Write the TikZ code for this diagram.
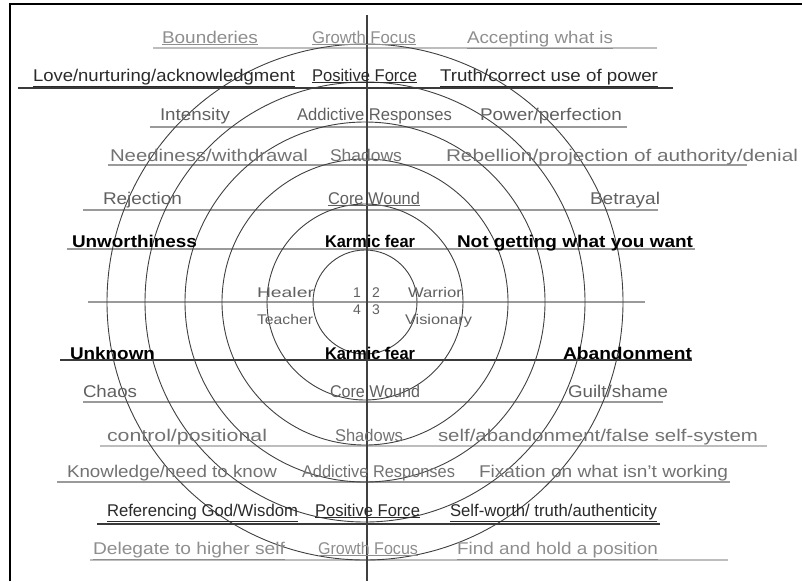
\documentclass[tikz,border=0pt]{standalone}
\usepackage{fontspec}
\setmainfont{Liberation Sans}
\usepackage{graphicx}
\newcommand{\fitw}[2]{\resizebox{#1pt}{\height}{#2}}
\definecolor{tlight}{HTML}{8E8E8E}
\definecolor{tdark}{HTML}{2A2A2A}
\definecolor{tmid}{HTML}{606060}
\definecolor{tmid2}{HTML}{727272}
\definecolor{llight}{HTML}{BDBDBD}
\definecolor{ldark}{HTML}{3A3A3A}
\definecolor{lmid}{HTML}{9A9A9A}
\definecolor{ring}{HTML}{404040}
\tikzset{
  lbl/.style={anchor=base west, inner sep=0pt, outer sep=0pt, font=\fontsize{17}{19}\selectfont},
  lblb/.style={lbl, font=\fontsize{17}{19}\selectfont\bfseries, text=black},
  small/.style={lbl, font=\fontsize{14}{16}\selectfont, text=tmid},
  rowlight/.style={draw=llight, line width=1.6pt},
  rowdark/.style={draw=ldark, line width=1.8pt},
  rowmid/.style={draw=lmid, line width=1.8pt},
  ringline/.style={draw=ring, line width=0.9pt},
}
\begin{document}
\begin{tikzpicture}[x=1pt,y=-1pt]
\useasboundingbox (0,0) rectangle (802,581);
\clip (0,0) rectangle (802,581);
% frame
\draw[line width=1.5pt] (10,581) -- (10,4) -- (802,4);
% row lines
\draw[rowlight] (153,48) -- (657,48);
\draw[rowdark]  (18,88) -- (673,88);
\draw[rowmid]   (150,127) -- (627,127);
\draw[rowmid]   (108,165) -- (747,165);
\draw[rowmid]   (83,210) -- (658,210);
\draw[rowmid]   (67,249) -- (695,249);
\draw[rowmid]   (88,302) -- (645,302);
\draw[rowdark]  (60,360) -- (692,360);
\draw[rowmid]   (83,402) -- (663,402);
\draw[rowlight] (100,446) -- (767,446);
\draw[rowmid]   (57,482) -- (730,482);
\draw[rowdark]  (97,524) -- (660,524);
\draw[rowlight] (90,560) -- (728,560);
% rings
\coordinate (ctr) at (365,302);
\foreach \r in {52,98,143,180,220,258} \draw[ringline] (ctr) circle (\r);
\draw[ringline, line width=1.1pt] (367,15) -- (367,581);
% row 1
\node[lbl, text=tlight] (r1a) at (162,43) {\fitw{96}{\underline{Bounderies}}};
\node[lbl, text=tlight] (r1b) at (312,43) {\fitw{104}{\underline{Growth Focus}}};
\node[lbl, text=tlight] (r1c) at (467,43) {\fitw{146}{\underline{Accepting what is}}};
% row 2
\node[lbl, text=tdark] (r2a) at (33,81) {\fitw{262}{\underline{Love/nurturing/acknowledgment}}};
\node[lbl, text=tdark] (r2b) at (312,81) {\fitw{105}{\underline{Positive Force}}};
\node[lbl, text=tdark] (r2c) at (440,81) {\fitw{218}{\underline{Truth/correct use of power}}};
% row 3
\node[lbl, text=tmid] (r3a) at (160,120) {\fitw{70}{Intensity}};
\node[lbl, text=tmid] (r3b) at (297,120) {\fitw{155}{Addictive Responses}};
\node[lbl, text=tmid] (r3c) at (480,120) {\fitw{142}{Power/perfection}};
% row 4
\node[lbl, text=tmid2] (r4a) at (110,161) {\fitw{198}{Neediness/withdrawal}};
\node[lbl, text=tmid2] (r4b) at (330,161) {\fitw{72}{Shadows}};
\node[lbl, text=tmid2] (r4c) at (446,161) {\fitw{352}{Rebellion/projection of authority/denial}};
% row 5
\node[lbl, text=tmid] (r5a) at (103,204) {\fitw{79}{Rejection}};
\node[lbl, text=tmid] (r5b) at (328,204) {\fitw{92}{\underline{Core Wound}}};
\node[lbl, text=tmid] (r5c) at (590,204) {\fitw{70}{Betrayal}};
% row 6
\node[lblb] (r6a) at (72,247) {\fitw{125}{Unworthiness}};
\node[lblb] (r6b) at (325,247) {\fitw{90}{Karmic fear}};
\node[lblb] (r6c) at (457,247) {\fitw{236}{Not getting what you want}};
% center
\node[small] (heal) at (257,297) {\fitw{57}{Healer}};
\node[small] (n1) at (353,297) {1};
\node[small] (n2) at (372,297) {2};
\node[small] (war) at (408,297) {\fitw{54}{Warrior}};
\node[small] (n4) at (353,314) {4};
\node[small] (n3) at (372,314) {3};
\node[small] (tea) at (257,324) {\fitw{56}{Teacher}};
\node[small] (vis) at (405,324) {\fitw{67}{Visionary}};
% row 8
\node[lblb] (r8a) at (70,359) {\fitw{85}{Unknown}};
\node[lblb] (r8b) at (325,359) {\fitw{90}{Karmic fear}};
\node[lblb] (r8c) at (563,359) {\fitw{129}{Abandonment}};
% row 9
\node[lbl, text=tmid] (r9a) at (83,397) {\fitw{54}{Chaos}};
\node[lbl, text=tmid] (r9b) at (330,397) {\fitw{90}{Core Wound}};
\node[lbl, text=tmid] (r9c) at (568,397) {\fitw{100}{Guilt/shame}};
% row 10
\node[lbl, text=tmid2] (r10a) at (107,441) {\fitw{160}{control/positional}};
\node[lbl, text=tmid2] (r10b) at (335,441) {\fitw{68}{Shadows}};
\node[lbl, text=tmid2] (r10c) at (438,441) {\fitw{320}{self/abandonment/false self-system}};
% row 11
\node[lbl, text=tmid2] (r11a) at (67,477) {\fitw{210}{Knowledge/need to know}};
\node[lbl, text=tmid2] (r11b) at (302,477) {\fitw{153}{Addictive Responses}};
\node[lbl, text=tmid2] (r11c) at (479,477) {\fitw{249}{Fixation on what isn't working}};
% row 12
\node[lbl, text=tdark] (r12a) at (107,516) {\fitw{191}{\underline{Referencing God/Wisdom}}};
\node[lbl, text=tdark] (r12b) at (315,516) {\fitw{105}{\underline{Positive Force}}};
\node[lbl, text=tdark] (r12c) at (450,516) {\fitw{207}{\underline{Self-worth/ truth/authenticity}}};
% row 13
\node[lbl, text=tlight] (r13a) at (93,554) {\fitw{192}{\underline{Delegate to higher self}}};
\node[lbl, text=tlight] (r13b) at (318,554) {\fitw{100}{\underline{Growth Focus}}};
\node[lbl, text=tlight] (r13c) at (457,554) {\fitw{201}{\underline{Find and hold a position}}};
\end{tikzpicture}
\end{document}
